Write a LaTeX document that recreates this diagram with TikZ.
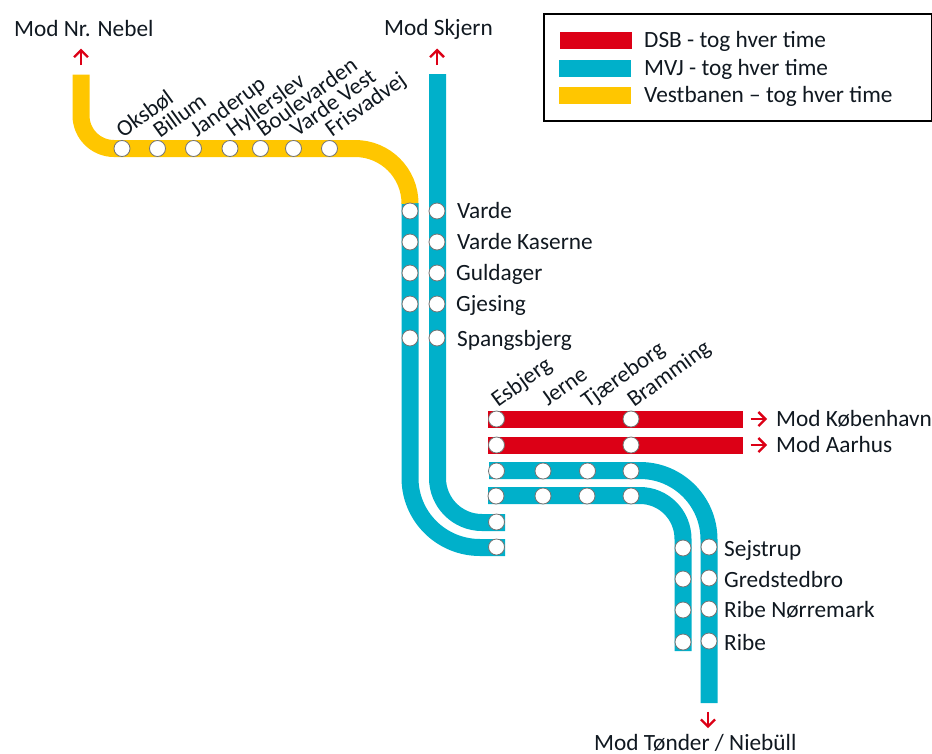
\documentclass[tikz,border=0pt]{standalone}
\usepackage{fontspec}
\setmainfont{Carlito}
\usetikzlibrary{arrows.meta}
\definecolor{dsbred}{HTML}{DC0016}
\definecolor{mvjblue}{HTML}{00B0CA}
\definecolor{vbyellow}{HTML}{FFC600}
\definecolor{inkdark}{HTML}{101820}
\tikzset{
  x=1pt,y=-1pt,
  track/.style={line width=17pt,line cap=butt},
  redtrack/.style={track,draw=dsbred},
  bluetrack/.style={track,draw=mvjblue},
  yellowtrack/.style={track,draw=vbyellow},
  stn/.style={circle,draw=black!55,line width=0.8pt,fill=white,minimum size=16pt,inner sep=0pt},
  lab/.style={anchor=base west,inner sep=0pt,text=inkdark,font=\fontsize{23.3}{27}\selectfont},
  rlab/.style={lab,rotate=36,font=\fontsize{23}{27}\selectfont},
  dirarrow/.style={draw=dsbred,line width=2.3pt,-{Straight Barb[length=7pt,width=14pt]}},
  swatch/.style={minimum width=72pt,minimum height=17pt,inner sep=0pt,anchor=west},
}
\begin{document}
\begin{tikzpicture}
\useasboundingbox (0,0) rectangle (932,753);
\coordinate (yA) at (81,74.5);
\coordinate (yB) at (410,203.5);
\coordinate (bA) at (437.5,74);
\coordinate (bB) at (437.5,478);
\coordinate (bC) at (505,522.5);
\coordinate (cA) at (410,203);
\coordinate (cB) at (410,478);
\coordinate (cC) at (505,547.5);
\coordinate (rA1) at (488,419);
\coordinate (rA2) at (743,419);
\coordinate (rB1) at (488,445);
\coordinate (rB2) at (743,445);
\coordinate (dA) at (489,470.5);
\coordinate (dB) at (709,703);
\coordinate (eA) at (488,495.5);
\coordinate (eB) at (683,651);
% tracks
\draw[bluetrack] (cA) -- (cB) .. controls (410,516.6) and (441.4,547.5) .. (480,547.5) -- (cC);
\draw[bluetrack] (bA) -- (bB) .. controls (437.5,502.6) and (457.4,522.5) .. (482,522.5) -- (bC);
\draw[yellowtrack] (yA) -- (81,115.5) .. controls (81,133.7) and (95.8,148.5) .. (114,148.5) -- (355,148.5) .. controls (385.4,148.5) and (410,173) .. (yB);
\draw[redtrack] (rA1) -- (rA2);
\draw[redtrack] (rB1) -- (rB2);
\draw[bluetrack] (dA) -- (640,470.5) .. controls (678.1,470.5) and (709,501.4) .. (709,539.5) -- (dB);
\draw[bluetrack] (eA) -- (640,495.5) .. controls (663.7,495.5) and (683,514.8) .. (683,539) -- (eB);
% stations
\foreach \n/\px/\py in {y1/122/148.5,y2/157.5/148.5,y3/193.5/148.5,y4/230/148.5,y5/260.5/148.5,y6/293.5/148.5,y7/329.5/148.5,
  l1/410/211,l2/410/242,l3/410/273,l4/410/304,l5/410/338,
  m1/437/211,m2/437/242,m3/437/273,m4/437/304,m5/437/338,
  s1/496.5/522,s2/496.5/547,
  r1/496.5/419,r2/631/419,r3/496.5/445,r4/631/445,
  t1/496.5/471,t2/543/471,t3/587.5/471,t4/631/471,
  u1/496/496,u2/543/496,u3/587/496,u4/631/496,
  v1/683/548,v2/683/579,v3/683/610,v4/683/642,
  w1/709/547,w2/709/578,w3/709/609,w4/709/641}
  \node[stn] (\n) at (\px,\py) {};
% arrows
\coordinate (a1s) at (81,65); \coordinate (a1e) at (81,48.5);
\coordinate (a2s) at (437,65); \coordinate (a2e) at (437,48.5);
\coordinate (a3s) at (750.5,419); \coordinate (a3e) at (767,419);
\coordinate (a4s) at (750.5,445); \coordinate (a4e) at (767,445);
\coordinate (a5s) at (708,711.5); \coordinate (a5e) at (708,728);
\draw[dirarrow] (a1s) -- (a1e);
\draw[dirarrow] (a2s) -- (a2e);
\draw[dirarrow] (a3s) -- (a3e);
\draw[dirarrow] (a4s) -- (a4e);
\draw[dirarrow] (a5s) -- (a5e);
% labels
\node[lab] (tNebel) at (14,36) {Mod Nr. Nebel};
\node[lab] (tSkjern) at (384,35) {Mod Skjern};
\node[lab] (tKbh) at (776,426.5) {Mod København};
\node[lab] (tAar) at (776,452.5) {Mod Aarhus};
\node[lab] (tTon) at (594,750.5) {Mod Tønder / Niebüll};
\foreach \n/\px/\py/\t in {a/457/218.5/Varde,b/457/249/Varde Kaserne,c/456/280/Guldager,d/456/311/Gjesing,e/457/346.5/Spangsbjerg,
  f/724/556.5/Sejstrup,g/724/587/Gredstedbro,h/724/617.5/Ribe Nørremark,i/724/650/Ribe}
  \node[lab] (lb\n) at (\px,\py) {\t};
\foreach \n/\px/\py/\t in {a/123/139/Oksbøl,b/160/139/Billum,c/197/138/Janderup,d/233/138/Hyllerslev,e/263.5/138/Boulevarden,f/297/138/Varde Vest,g/332/138/Frisvadvej,
  h/498/408/Esbjerg,i/548/407/Jerne,j/588/409/Tjæreborg,k/634/408/Bramming}
  \node[rlab] (rl\n) at (\px,\py) {\t};
% legend
\node[draw=black,line width=2.4pt,fill=white,minimum width=388pt,minimum height=107pt,inner sep=0pt,anchor=north west] (legend) at (543,13) {};
\node[swatch,fill=dsbred] (swR) at (559.5,40) {};
\node[swatch,fill=mvjblue] (swB) at (559,68) {};
\node[swatch,fill=vbyellow] (swY) at (559,95) {};
\node[lab] (ltR) at (644,47.5) {DSB - tog hver time};
\node[lab] (ltB) at (644,75) {MVJ - tog hver time};
\node[lab] (ltY) at (644,102) {Vestbanen – tog hver time};
\end{tikzpicture}
\end{document}
